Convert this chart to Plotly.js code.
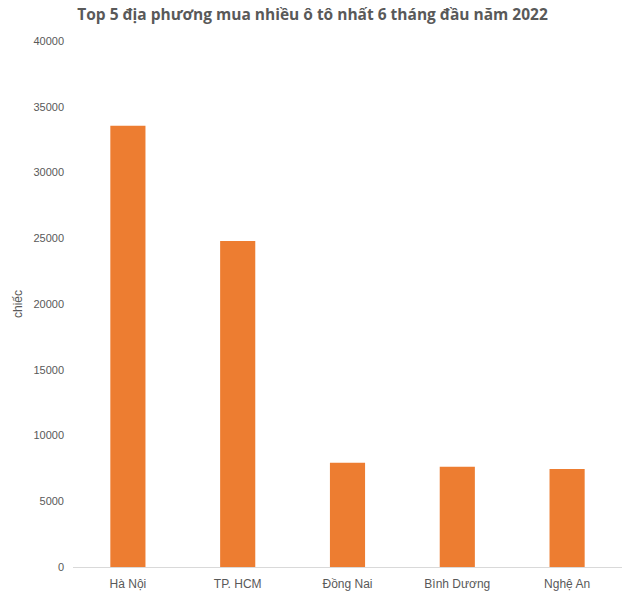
<!DOCTYPE html>
<html>
<head>
<meta charset="utf-8">
<script src="https://cdn.plot.ly/plotly-3.0.1.min.js"></script>
<style>
  body { margin: 0; background: #fff; }
  #chart { width: 625px; height: 595px; }
</style>
</head>
<body>
<div id="chart"></div>
<script>
const provinces = ['Hà Nội', 'TP. HCM', 'Đồng Nai', 'Bình Dương', 'Nghệ An'];
const cars = [33550, 24800, 7920, 7620, 7460];
const yTicks = [0, 5000, 10000, 15000, 20000, 25000, 30000, 35000, 40000];

const TEXT_COLOR = '#595959';

const trace = {
  x: provinces,
  y: cars,
  type: 'bar',
  marker: { color: '#ed7d31' },
  hoverinfo: 'x+y',
};

const layout = {
  width: 625,
  height: 595,
  margin: { l: 73, r: 3, t: 41, b: 28 },
  paper_bgcolor: '#fff',
  plot_bgcolor: '#fff',
  bargap: 0.68,
  showlegend: false,
  font: { family: 'Liberation Sans, Arial, sans-serif', size: 12, color: TEXT_COLOR },
  title: {
    text: '<b>Top 5 địa phương mua nhiều ô tô nhất 6 tháng đầu năm 2022</b>',
    font: { family: 'Open Sans, sans-serif', size: 15.5, color: TEXT_COLOR },
    x: 0.5,
    xref: 'container',
    xanchor: 'center',
    y: 0.975,
    yanchor: 'middle',
  },
  xaxis: {
    showgrid: false,
    showline: true,
    linecolor: '#d9d9d9',
    linewidth: 1,
    ticks: '',
    ticklabelstandoff: 6,
    tickfont: { size: 12, color: TEXT_COLOR },
  },
  yaxis: {
    range: [0, 40000],
    tickvals: yTicks,
    ticktext: yTicks.map(String),
    showgrid: false,
    zeroline: false,
    showline: false,
    ticks: '',
    ticklabelstandoff: 8,
    tickfont: { size: 11, color: TEXT_COLOR },
    title: {
      text: 'chiếc',
      standoff: 8,
      font: { size: 12, color: TEXT_COLOR },
    },
  },
};

Plotly.newPlot('chart', [trace], layout, { displayModeBar: false, staticPlot: true });
</script>
</body>
</html>
